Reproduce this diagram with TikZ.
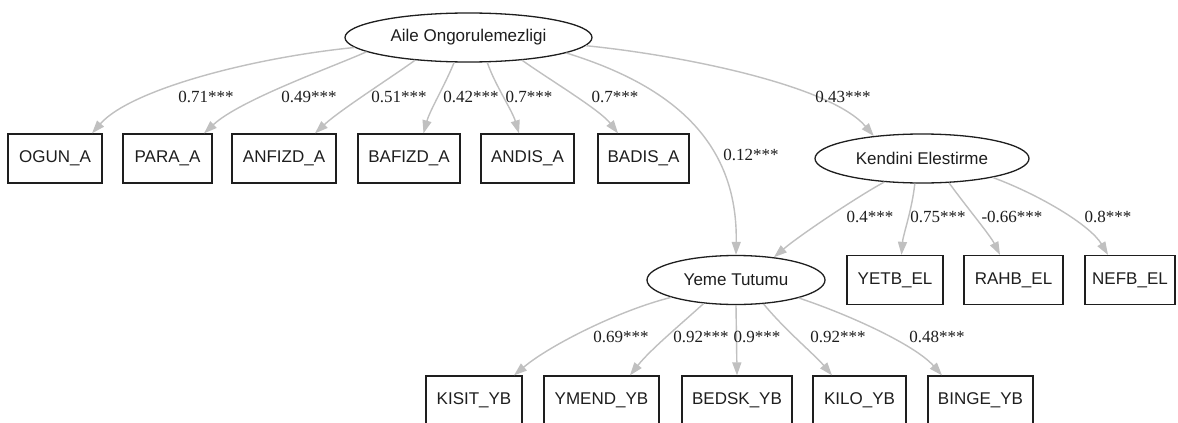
\documentclass[tikz,border=0pt]{standalone}
\usepackage{fontspec}
\setmainfont{Liberation Serif}
\newfontfamily\nodefont{Liberation Sans}
\usetikzlibrary{arrows.meta,shapes.geometric}
\definecolor{edgegray}{HTML}{C0C0C0}
\definecolor{ink}{HTML}{1E1E1E}
\begin{document}
\begin{tikzpicture}[x=1pt,y=-1pt,
  lat/.style={ellipse, draw=ink, line width=1.3pt, inner sep=0pt, minimum height=49pt,
    font=\nodefont\fontsize{17}{20}\selectfont, text=ink},
  obs/.style={rectangle, draw=ink, line width=1.3pt, inner sep=0pt, minimum height=49pt,
    font=\nodefont\fontsize{17}{20}\selectfont, text=ink},
  sem/.style={draw=edgegray, line width=1.4pt, -{Triangle[length=13pt,width=9pt,color=edgegray]}},
  coef/.style={inner sep=0pt, font=\fontsize{17}{20}\selectfont, text=ink}]
\useasboundingbox[fill=white] (0,0) rectangle (1178,423);

% latent variables
\node[lat, minimum width=247pt] (aile) at (468.5,37.5) {Aile Ongorulemezligi};
\node[lat, minimum width=214pt] (kend) at (922,158.5) {Kendini Elestirme};
\node[lat, minimum width=178pt] (yeme) at (736,280) {Yeme Tutumu};

% row 1 indicators
\node[obs, minimum width=94pt] (ogun) at (55,158.5) {OGUN\_A};
\node[obs, minimum width=89pt] (para) at (167.5,158.5) {PARA\_A};
\node[obs, minimum width=104pt] (anfizd) at (284,158.5) {ANFIZD\_A};
\node[obs, minimum width=102pt] (bafizd) at (409,158.5) {BAFIZD\_A};
\node[obs, minimum width=93pt] (andis) at (527.5,158.5) {ANDIS\_A};
\node[obs, minimum width=91pt] (badis) at (643.5,158.5) {BADIS\_A};

% row 2 indicators
\node[obs, minimum width=96pt] (yetb) at (895,280) {YETB\_EL};
\node[obs, minimum width=99pt] (rahb) at (1013.5,280) {RAHB\_EL};
\node[obs, minimum width=90pt] (nefb) at (1130,280) {NEFB\_EL};

% row 3 indicators
\node[obs, minimum width=96pt] (kisit) at (474,400.5) {KISIT\_YB};
\node[obs, minimum width=115pt] (ymend) at (601.5,400.5) {YMEND\_YB};
\node[obs, minimum width=110pt] (bedsk) at (737,400.5) {BEDSK\_YB};
\node[obs, minimum width=93pt] (kilo) at (859.5,400.5) {KILO\_YB};
\node[obs, minimum width=105pt] (binge) at (980.5,400.5) {BINGE\_YB};

% edges from Aile Ongorulemezligi
\draw[sem] (aile.185) .. controls (250,58) and (130,90) .. ([xshift=37pt]ogun.north);
\draw[sem] (aile.188) .. controls (330,68) and (240,100) .. ([xshift=36.5pt]para.north);
\draw[sem] (aile.203) .. controls (395,75) and (340,110) .. ([xshift=31pt]anfizd.north);
\draw[sem] (aile.240) .. controls (445,85) and (430,110) .. ([xshift=14.5pt]bafizd.north);
\draw[sem] (aile.-53) .. controls (495,85) and (512,110) .. ([xshift=-8.5pt]andis.north);
\draw[sem] (aile.-23) .. controls (550,80) and (600,110) .. ([xshift=-25.5pt]badis.north);
\draw[sem] (aile.-4) .. controls (680,55) and (830,85) .. (kend.155);
\draw[sem] (aile.-9) .. controls (670,85) and (738,140) .. (yeme.north);

% edges from Kendini Elestirme
\draw[sem] (kend.212) .. controls (860,195) and (800,235) .. (yeme.31);
\draw[sem] (kend.254) .. controls (912,210) and (903,235) .. ([xshift=6.5pt]yetb.north);
\draw[sem] (kend.-42) .. controls (965,205) and (990,235) .. ([xshift=-13.5pt]rahb.north);
\draw[sem] (kend.-15.5) .. controls (1040,195) and (1090,225) .. ([xshift=-22pt]nefb.north);

% edges from Yeme Tutumu
\draw[sem] (yeme.195) .. controls (620,310) and (550,345) .. ([xshift=40pt]kisit.north);
\draw[sem] (yeme.216) .. controls (680,325) and (650,350) .. ([xshift=28.5pt]ymend.north);
\draw[sem] (yeme.south) -- (bedsk.north);
\draw[sem] (yeme.-41) .. controls (785,330) and (815,355) .. ([xshift=-27.5pt]kilo.north);
\draw[sem] (yeme.-16) .. controls (850,315) and (915,345) .. ([xshift=-38.5pt]binge.north);

% coefficients
\node[coef] (c1) at (206,97) {0.71***};
\node[coef] (c2) at (309,97) {0.49***};
\node[coef] (c3) at (399,97) {0.51***};
\node[coef] (c4) at (471,97) {0.42***};
\node[coef] (c5) at (529,97) {0.7***};
\node[coef] (c6) at (615,97) {0.7***};
\node[coef] (c7) at (843,97) {0.43***};
\node[coef] (c8) at (751,155) {0.12***};
\node[coef] (c9) at (870,217) {0.4***};
\node[coef] (c10) at (938,217) {0.75***};
\node[coef] (c11) at (1012,217) {-0.66***};
\node[coef] (c12) at (1108,217) {0.8***};
\node[coef] (c13) at (621,337) {0.69***};
\node[coef] (c14) at (701,337) {0.92***};
\node[coef] (c15) at (757,337) {0.9***};
\node[coef] (c16) at (838,337) {0.92***};
\node[coef] (c17) at (937,337) {0.48***};
\end{tikzpicture}
\end{document}
